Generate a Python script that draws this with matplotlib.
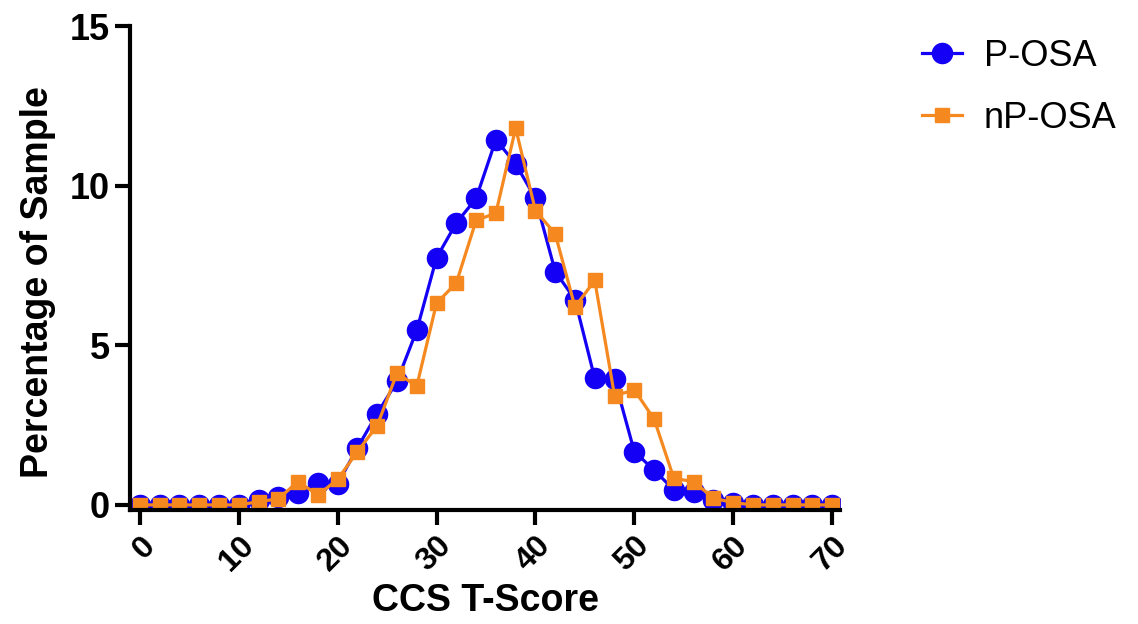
import numpy as np
import matplotlib
matplotlib.use("Agg")
import matplotlib.pyplot as plt

plt.rcParams['font.family'] = ['Liberation Sans', 'DejaVu Sans']

t_score = list(range(0, 72, 2))
p_osa = [0, 0, 0, 0, 0, 0, 0.16, 0.26, 0.37, 0.70, 0.66, 1.79, 2.86, 3.87, 5.47, 7.74,
         8.83, 9.60, 11.44, 10.68, 9.60, 7.31, 6.43, 3.96, 3.93, 1.67, 1.09, 0.47,
         0.39, 0.16, 0.07, 0, 0, 0, 0, 0]
np_osa = [0, 0, 0, 0, 0, 0, 0.10, 0.19, 0.73, 0.31, 0.80, 1.67, 2.48, 4.13, 3.72, 6.32,
          6.95, 8.91, 9.14, 11.80, 9.22, 8.49, 6.20, 7.03, 3.42, 3.60, 2.69, 0.83,
          0.73, 0.21, 0.07, 0, 0, 0, 0, 0]

blue = '#1400F5'
orange = '#F5891F'

fig = plt.figure(figsize=(11.38, 6.24), dpi=100)
ax = fig.add_axes([130 / 1138, 1 - 510 / 624, 710 / 1138, 484 / 624])

ax.plot(t_score, p_osa, color=blue, lw=2.3, marker='o', markersize=14.5, label='P-OSA')
ax.plot(t_score, np_osa, color=orange, lw=2.3, marker='s', markersize=10.5, label='nP-OSA')

ax.set_xlim(-1, 70.8)
ax.set_ylim(-0.16, 15)
ax.set_xticks(range(0, 80, 10))
ax.set_yticks([0, 5, 10, 15])

for side in ['top', 'right']:
    ax.spines[side].set_visible(False)
for side in ['left', 'bottom']:
    ax.spines[side].set_linewidth(3)

ax.tick_params(axis='both', width=3, length=11)
ax.tick_params(axis='y', labelsize=26)
ax.tick_params(axis='x', labelsize=23, pad=4)
for lbl in ax.get_yticklabels():
    lbl.set_fontweight('bold')
for lbl in ax.get_xticklabels():
    lbl.set_fontweight('bold')
    lbl.set_rotation(45)
    lbl.set_ha('right')
    lbl.set_rotation_mode('anchor')

ax.set_xlabel('CCS T-Score', fontsize=27, fontweight='bold', labelpad=4)
ax.set_ylabel('Percentage of Sample', fontsize=27, fontweight='bold')
ax.yaxis.set_label_coords(-0.104, 0.47)

fig.legend(loc='upper left', bbox_to_anchor=(0.782, 0.99), frameon=False,
           fontsize=26, handlelength=1.1, handletextpad=0.6, labelspacing=0.75)

fig.savefig('out.png', dpi=100)
